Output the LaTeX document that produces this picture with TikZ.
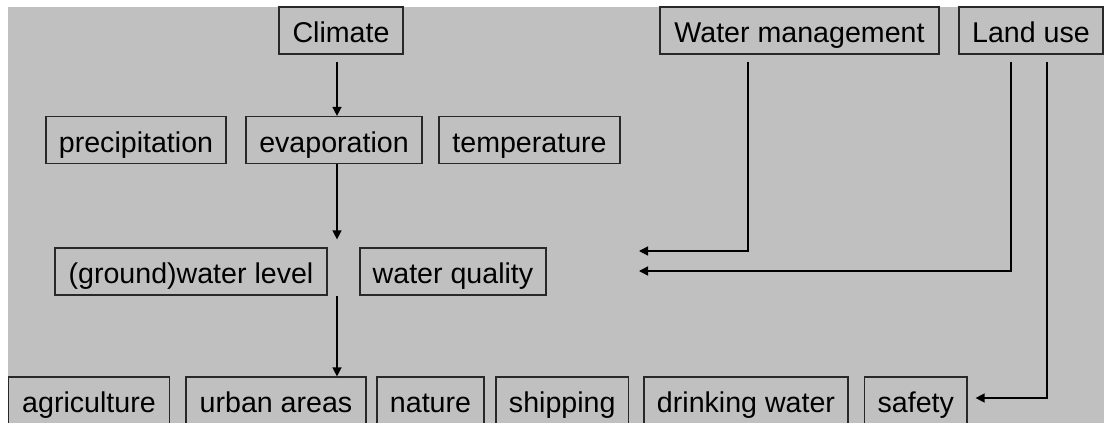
\documentclass[tikz,border=0pt]{standalone}
\usepackage{fontspec}
\setmainfont{Liberation Sans}
\usetikzlibrary{arrows.meta}

\begin{document}
\begin{tikzpicture}[
    x=0.5pt, y=-0.5pt,
    every node/.style={font=\fontsize{14.3pt}{17pt}\selectfont},
    factor/.style={draw=boxline, fill=bggray, line width=0.6pt,
        minimum height=23.5pt, inner xsep=0pt,
        text height=12pt, text depth=0pt},
    link/.style={draw=black, line width=0.7pt,
        -{Triangle[length=4.5pt,width=4.5pt]}},
]

\definecolor{bggray}{RGB}{192,192,192}
\definecolor{boxline}{RGB}{40,40,40}

% ---------- canvas: thin white margin at top and left, grey panel ----------
\useasboundingbox (0,0) rectangle (1104,423);
\fill[white] (0,0) rectangle (1104,423);
\fill[bggray] (8,7) rectangle (1104,423);

% ---------- drivers (top row) ----------
\node[factor, minimum width=62pt]    (climate) at (341,30.5)   {Climate};
\node[factor, minimum width=139.5pt] (watman)  at (799.5,30.5) {Water management};
\node[factor, minimum width=72pt]    (landuse) at (1031,30.5)  {Land use};

% ---------- climate variables ----------
\node[factor, minimum width=90pt]   (precip) at (136,140)   {precipitation};
\node[factor, minimum width=88pt]   (evap)   at (334,140)   {evaporation};
\node[factor, minimum width=90.5pt] (temp)   at (529.5,140) {temperature};

% ---------- water system ----------
\node[factor, minimum width=136pt] (gwlevel) at (191,271.5) {(ground)water level};
\node[factor, minimum width=93pt]  (wqual)   at (453,271.5) {water quality};

% ---------- functions (bottom row, cut by the lower edge) ----------
\foreach \nm/\cx/\bw/\txt in {agri/89/80.25/agriculture,
        urban/276/90/urban areas,
        nature/430.5/53.5/nature,
        ship/562.25/66.25/shipping,
        drink/746/102/drinking water,
        safety/915.75/51.25/safety}
    \node[factor, minimum width=\bw pt] (\nm) at (\cx,400.5) {\txt};

% ---------- connectors ----------
\coordinate (col)      at (337,0);
\coordinate (wmdrop)   at (748,0);
\coordinate (ludrop)   at (1011,0);
\coordinate (safedrop) at (1047,0);
\coordinate (wmin)     at (639,251);
\coordinate (luin)     at (639,271);

\draw[link, shorten <=3.5pt] (climate.south -| col) -- (evap.north -| col);
\draw[link, shorten >=4pt]   (evap.south -| col) -- (gwlevel.north -| col);
\draw[link]                  (gwlevel.south -| col) -- (urban.north -| col);
\draw[link, shorten <=3.5pt] (watman.south -| wmdrop) |- (wmin);
\draw[link, shorten <=3.5pt] (landuse.south -| ludrop) |- (luin);
\draw[link, shorten <=3.5pt, shorten >=4pt]
    (landuse.south -| safedrop) |- ([yshift=1.25pt]safety.east);

\end{tikzpicture}
\end{document}
